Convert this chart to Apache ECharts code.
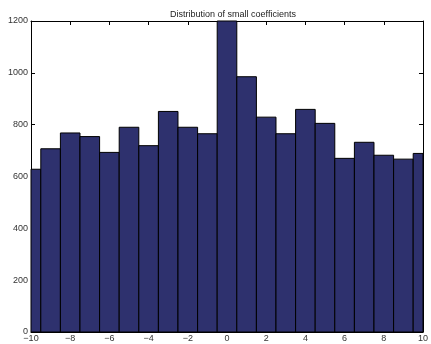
<!DOCTYPE html>
<html><head><meta charset="utf-8">
<script src="https://cdn.jsdelivr.net/npm/echarts@6/dist/echarts.min.js"></script>
<style>html,body{margin:0;padding:0;background:#fff}#c{width:431px;height:344px}</style>
</head><body><div id="c"></div>
<script>
const binCenters = [-10,-9,-8,-7,-6,-5,-4,-3,-2,-1,0,1,2,3,4,5,6,7,8,9,10];
const counts = [628,707,768,754,693,790,719,851,790,765,1260,985,829,765,859,805,670,732,682,667,689];
const binWidth = 1;
const title = 'Distribution of small coefficients';
const data = binCenters.map((c,i)=>[c,counts[i]]);
const chart = echarts.init(document.getElementById('c'), null, {renderer:'canvas'});
const fmt = v => String(v).replace('-', '\u2212');
const axisCommon = {
  axisLine:{show:true, onZero:false, lineStyle:{color:'#000', width:1}},
  axisTick:{show:true, inside:true, length:4, lineStyle:{color:'#000'}},
  splitLine:{show:false}
};
chart.setOption({
  animation:false,
  title:{text:title, left:228, top:5, textAlign:'center',
    textStyle:{fontSize:9, fontWeight:'normal', color:'#222', fontFamily:'Liberation Sans'}},
  grid:{left:31, right:6, top:21, bottom:12},
  xAxis:[
    Object.assign({type:'value', min:-10, max:10, interval:2,
      axisLabel:{fontSize:9, color:'#333', margin:2, fontFamily:'Liberation Sans', formatter:fmt}}, axisCommon),
    Object.assign({type:'value', position:'top', min:-10, max:10, interval:2,
      axisLabel:{show:false}}, axisCommon)
  ],
  yAxis:[
    Object.assign({type:'value', min:0, max:1200, interval:200,
      axisLabel:{fontSize:9, color:'#333', margin:3, fontFamily:'Liberation Sans', formatter:v=>String(v)}}, axisCommon),
    Object.assign({type:'value', position:'right', min:0, max:1200, interval:200,
      axisLabel:{show:false}}, axisCommon)
  ],
  series:[{
    type:'custom',
    data:data,
    encode:{x:0,y:1},
    renderItem:function(params, api){
      const c = api.value(0), v = api.value(1);
      const p0 = api.coord([c - binWidth/2, v]);
      const p1 = api.coord([c + binWidth/2, 0]);
      const rect = echarts.graphic.clipRectByRect(
        {x:p0[0], y:p0[1], width:p1[0]-p0[0], height:p1[1]-p0[1]},
        {x:params.coordSys.x, y:params.coordSys.y, width:params.coordSys.width, height:params.coordSys.height});
      if(!rect) return null;
      return {type:'rect', shape:rect, style:{fill:'#2e316e', stroke:'#000', lineWidth:1}};
    }
  }]
});
</script></body></html>
